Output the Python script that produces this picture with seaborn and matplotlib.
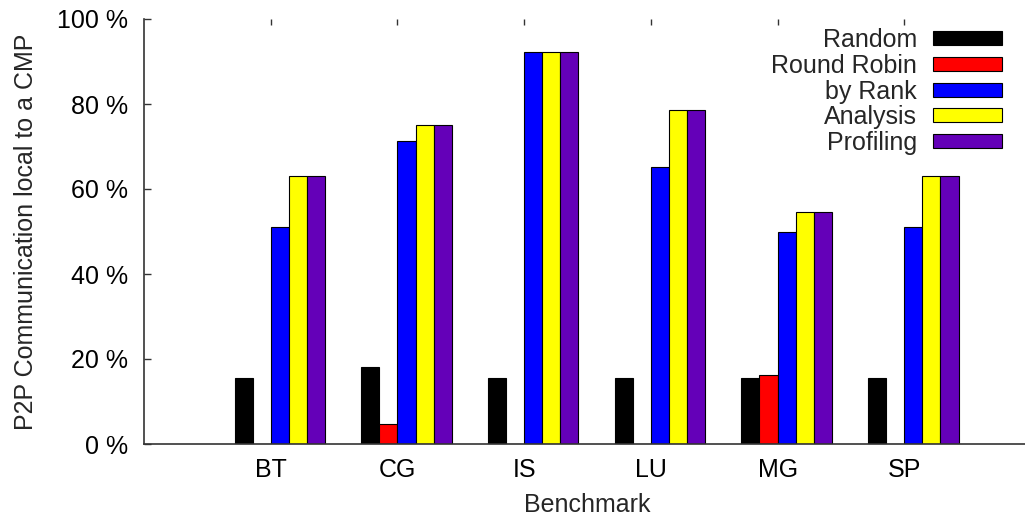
import matplotlib
matplotlib.use("Agg")
import matplotlib.pyplot as plt
import numpy as np
import pandas as pd
import seaborn as sns

# Benchmarks and placement strategies
benchmarks = ["BT", "CG", "IS", "LU", "MG", "SP"]
strategies = ["Random", "Round Robin", "by Rank", "Analysis", "Profiling"]

# Share of point-to-point communication staying local to one CMP (%)
random_pct = [15.5, 18.1, 15.6, 15.5, 15.5, 15.5]
round_robin_pct = [0.0, 4.6, 0.0, 0.0, 16.2, 0.0]
by_rank_pct = [51.0, 71.2, 92.2, 65.2, 49.8, 51.0]
analysis_pct = [63.0, 75.0, 92.2, 78.6, 54.7, 63.1]
profiling_pct = [63.0, 75.0, 92.2, 78.6, 54.7, 63.1]

colors = ["#000000", "#ff0000", "#0000ff", "#ffff00", "#6400b8"]

series = [random_pct, round_robin_pct, by_rank_pct, analysis_pct, profiling_pct]
df = pd.DataFrame(
    [(b, s, v) for s, vals in zip(strategies, series) for b, v in zip(benchmarks, vals)],
    columns=["Benchmark", "Strategy", "Percent"],
)

sns.set_theme(style="ticks")
plt.rcParams["font.family"] = ["Liberation Sans", "DejaVu Sans"]
plt.rcParams["font.size"] = 18

fig = plt.figure(figsize=(10.25, 5.22), dpi=100)
ax = fig.add_axes([144 / 1025, 1 - 444 / 522, 887 / 1025, 425 / 522])

n = len(strategies)
bar_w = 1.0 / 7.0
sns.barplot(
    data=df, x="Benchmark", y="Percent", hue="Strategy",
    order=benchmarks, hue_order=strategies,
    palette=dict(zip(strategies, colors)),
    width=n * bar_w, errorbar=None, saturation=1.0,
    edgecolor="black", linewidth=0.8, ax=ax,
)

ax.set_ylim(0, 100)
ax.set_yticks(np.arange(0, 101, 20))
ax.set_yticklabels([f"{v} %" for v in range(0, 101, 20)])
ticks = np.arange(len(benchmarks)) - bar_w / 2
ax.set_xticks(ticks)
ax.set_xticklabels(benchmarks)
ax.set_xlim(ticks[0] - 1, ticks[0] + 6)

spine_c = "#333333"
for side in ["top", "right"]:
    ax.spines[side].set_visible(False)
for side in ["left", "bottom"]:
    ax.spines[side].set_color(spine_c)
    ax.spines[side].set_linewidth(1.2)

ax.tick_params(axis="y", direction="in", length=5, width=1.0, color=spine_c,
               labelsize=18, pad=11.5, labelcolor="black")
ax.tick_params(axis="x", direction="in", length=4.5, width=1.0, color=spine_c,
               top=True, bottom=False, labeltop=False, labelbottom=True,
               labelsize=18, pad=10, labelcolor="black")

ax.set_xlabel("Benchmark", fontsize=18, labelpad=8)
ax.set_ylabel("P2P Communication local to a CMP", fontsize=18, labelpad=14)

handles, labels = ax.get_legend_handles_labels()
ax.legend(
    handles, labels, loc="upper right",
    bbox_to_anchor=(1002 / 1025, 1 - 28 / 522), bbox_transform=fig.transFigure,
    frameon=False, markerfirst=False, fontsize=18,
    handlelength=2.76, handleheight=0.48, handletextpad=0.64,
    labelspacing=0.07, borderpad=0, borderaxespad=0,
)

fig.savefig("out.png", dpi=100)
